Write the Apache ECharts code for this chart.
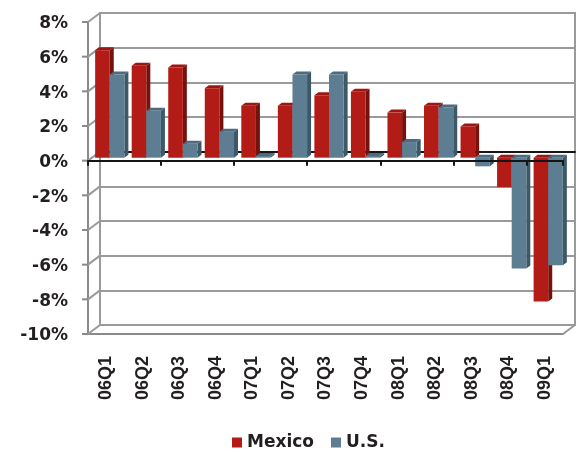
<!DOCTYPE html>
<html><head><meta charset="utf-8">
<script src="https://cdn.jsdelivr.net/npm/echarts@6/dist/echarts.min.js"></script>
<style>html,body{margin:0;padding:0;background:#fff}#c{width:577px;height:452px}</style>
</head><body><div id="c"></div>
<script>
const categories = ['06Q1','06Q2','06Q3','06Q4','07Q1','07Q2','07Q3','07Q4','08Q1','08Q2','08Q3','08Q4','09Q1'];
const mexico = [6.2, 5.3, 5.2, 4.0, 3.0, 3.0, 3.6, 3.8, 2.6, 3.0, 1.8, -1.7, -8.3];
const us = [4.8, 2.7, 0.8, 1.5, 0.1, 4.8, 4.8, 0.1, 0.9, 2.9, -0.5, -6.4, -6.2];
const yTicks = [-10, -8, -6, -4, -2, 0, 2, 4, 6, 8];
const yTickLabels = ['-10%', '-8%', '-6%', '-4%', '-2%', '0%', '2%', '4%', '6%', '8%'];

const DX = 12, DY = -9;      // wall depth
const OX = 3.5, OY = -3;     // bar front offset into depth
const BX = 4, BY = -3;       // bar depth
const TXT = '#231f20';
const GRAY = '#9a9a9a';

const palette = {
  Mexico: {front: '#b31b16', side: '#76120e', top: '#9c1713'},
  'U.S.': {front: '#5d7e92', side: '#3d5866', top: '#4c6b7e'}
};

function barRender(name, leftSide) {
  const c = palette[name];
  return function (params, api) {
    const i = api.value(0), v = api.value(1);
    const pv = api.coord([i, v]);
    const p0 = api.coord([i, 0]);
    const w = api.size([1, 0])[0];
    const bw = w * 0.4;
    const l = p0[0] + (leftSide ? -bw : 0) + OX;
    const r = l + bw;
    const yTop = Math.min(pv[1], p0[1]) + OY;
    const yBot = Math.max(pv[1], p0[1]) + OY;
    return {
      type: 'group',
      children: [
        {type: 'polygon', shape: {points: [[r, yTop], [r + BX, yTop + BY], [r + BX, yBot + BY], [r, yBot]]}, style: {fill: c.side}},
        {type: 'polygon', shape: {points: [[l, yTop], [r, yTop], [r + BX, yTop + BY], [l + BX, yTop + BY]]}, style: {fill: c.top}},
        {type: 'rect', shape: {x: l, y: yTop, width: bw, height: yBot - yTop}, style: {fill: c.front}}
      ]
    };
  };
}

function frameRender(params, api) {
  const v = api.value(1);
  const p = api.coord([0, v]);
  const w = api.size([1, 0])[0];
  const left = p[0] - w / 2;
  const children = [
    {type: 'line', shape: {x1: left, y1: p[1], x2: left + DX, y2: p[1] + DY}, style: {stroke: GRAY, lineWidth: 2}},
    {type: 'line', shape: {x1: left - 6, y1: p[1], x2: left, y2: p[1]}, style: {stroke: '#8a8a8a', lineWidth: 2}},
    {type: 'text', style: {text: yTickLabels[params.dataIndex], x: left - 20, y: p[1] + 2, align: 'right', verticalAlign: 'middle',
      fontFamily: 'DejaVu Sans', fontWeight: 'bold', fontSize: 17, fill: TXT}}
  ];
  if (v === yTicks[0]) {
    const pr = api.coord([categories.length - 1, v]);
    const right = pr[0] + w / 2;
    children.push({type: 'line', shape: {x1: right, y1: pr[1], x2: right + DX, y2: pr[1] + DY}, style: {stroke: GRAY, lineWidth: 2}});
  }
  return {type: 'group', children};
}

const chart = echarts.init(document.getElementById('c'));
chart.setOption({
  animation: false,
  backgroundColor: '#fff',
  grid: [
    {left: 88, right: 14, top: 22, bottom: 118, outerBoundsMode: 'none'},
    {left: 100, right: 2, top: 13, bottom: 127, show: true, borderColor: GRAY, borderWidth: 2, backgroundColor: 'transparent', outerBoundsMode: 'none'}
  ],
  legend: {
    data: ['Mexico', 'U.S.'],
    left: 227, top: 429,
    icon: 'rect', itemWidth: 10, itemHeight: 10, itemGap: 17,
    textStyle: {fontFamily: 'DejaVu Sans', fontWeight: 'bold', fontSize: 17, color: TXT}
  },
  xAxis: [
    {gridIndex: 0, type: 'category', data: categories, position: 'bottom',
     axisLine: {show: true, onZero: false, lineStyle: {color: '#8a8a8a', width: 2}},
     axisTick: {show: false},
     axisLabel: {rotate: 90, margin: 22, fontFamily: 'Liberation Sans', fontWeight: 'bold', fontSize: 18, color: TXT}},
    {gridIndex: 0, type: 'category', data: categories, position: 'bottom', z: 10,
     axisLine: {show: true, onZero: true, lineStyle: {color: '#151515', width: 2}},
     axisTick: {show: true, length: 5, lineStyle: {color: '#151515', width: 2}},
     axisLabel: {show: false}},
    {gridIndex: 1, type: 'category', data: categories,
     axisLine: {show: true, onZero: true, lineStyle: {color: '#151515', width: 2}},
     axisTick: {show: false}, axisLabel: {show: false}}
  ],
  yAxis: [
    {gridIndex: 0, type: 'value', min: -10, max: 8, interval: 2,
     axisLine: {show: true, lineStyle: {color: '#8a8a8a', width: 2}},
     axisTick: {show: false}, splitLine: {show: false}, axisLabel: {show: false}},
    {gridIndex: 1, type: 'value', min: -10, max: 8, interval: 2,
     axisLine: {show: false}, axisTick: {show: false}, axisLabel: {show: false},
     splitLine: {show: true, lineStyle: {color: GRAY, width: 2}}}
  ],
  series: [
    {type: 'custom', name: 'frame', xAxisIndex: 0, yAxisIndex: 0, z: 1, silent: true, clip: false,
     data: yTicks.map(v => [0, v]), renderItem: frameRender},
    {type: 'custom', name: 'Mexico', xAxisIndex: 0, yAxisIndex: 0, z: 3,
     itemStyle: {color: palette.Mexico.front},
     data: mexico.map((v, i) => [i, v]), renderItem: barRender('Mexico', true)},
    {type: 'custom', name: 'U.S.', xAxisIndex: 0, yAxisIndex: 0, z: 3,
     itemStyle: {color: palette['U.S.'].front},
     data: us.map((v, i) => [i, v]), renderItem: barRender('U.S.', false)}
  ]
});
</script>
</body></html>
